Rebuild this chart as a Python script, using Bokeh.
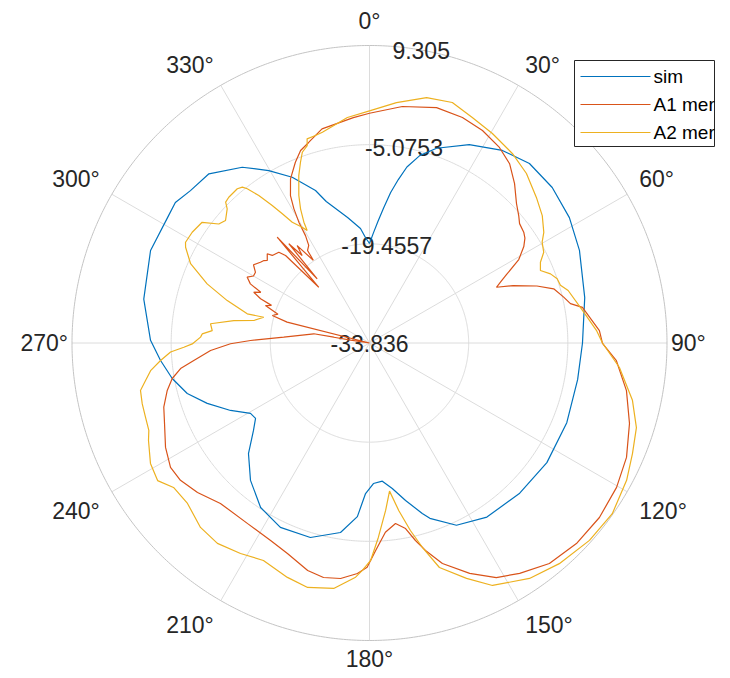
import numpy as np
from bokeh.plotting import figure
from bokeh.models import Range1d
from bokeh.core.properties import value
from bokeh.embed import file_html
from bokeh.resources import INLINE

# ---------------- data ----------------
R_MIN = -33.836
R_MAX = 9.305
r_ticks = [-33.836, -19.4557, -5.0753, 9.305]
r_tick_labels = ["-33.836", "-19.4557", "-5.0753", "9.305"]
theta_ticks = [0, 30, 60, 90, 120, 150, 180, 210, 240, 270, 300, 330]
theta_tick_labels = ["0°", "30°", "60°", "90°", "120°", "150°", "180°", "210°", "240°", "270°", "300°", "330°"]
series_names = ["sim", "A1 mer", "A2 mer"]

sim_theta = [0, 2, 4, 6, 8, 10, 12, 15, 19, 26.7, 34.6, 41.7, 49.6, 57.9, 66.2, 78.1, 90, 100, 112, 124,
             135, 146, 154.5, 161, 162.8, 167.1, 171.1, 174.7, 178.4, 181.5, 184, 188.7, 196.9, 205.8,
             213.5, 220.9, 227.6, 233, 236.5, 239.4, 244.1, 249.6, 254.5, 259.8, 265.2, 270.7, 281,
             292.9, 301.9, 305.9, 310.4, 316.5, 324.1, 329.7, 335, 340.5, 343, 350.1, 355.5, 357.8, 360]
sim_db = [-19.41, -17.89, -16.15, -14.12, -11.80, -9.77, -7.74, -5.71, -3.97, -1.65, 0.09, 1.03, 0.96,
          0.38, -0.56, -1.94, -2.95, -3.19, -2.98, -2.81, -3.03, -3.39, -4.55, -6.94, -7.96, -10.41,
          -12.48, -13.71, -13.45, -12.00, -8.6, -6.04, -4.36, -4.14, -5.23, -7.48, -10.07, -12.77,
          -14.02, -13.79, -11.44, -8.73, -6.41, -4.77, -3.43, -2.08, -0.49, 0.63, 0.64, 0.92, 0.26,
          -0.01, -2.37, -4.88, -7.32, -10.38, -12.38, -15.37, -17.18, -18.53, -19.41]

a1_theta = [0, 7.9, 15.9, 22.4, 28.0, 33.6, 38.0, 42.3, 46.5, 49.5, 51.5, 54.3, 56, 58.0, 60.8, 63.5,
            65.1, 66.3, 68.2, 71.2, 73.6, 76.7, 78.9, 80.5, 86.9, 90.1, 94.1, 100.5, 107.2, 114.0,
            120.3, 127.2, 134.1, 140.8, 146.9, 151.6, 156.5, 161.7, 164.9, 166.9, 169.0, 171.8, 175.2,
            178.3, 180.6, 183.0, 187.0, 191.1, 195.2, 201.3, 206.6, 214.0, 222.9, 229.0, 234.0, 238.0,
            242.9, 248.6, 252.7, 256.8, 259.8, 262.3, 264.3, 267.3, 269.7, 271.2, 273.9, 279.4, 279.2,
            278.5, 281, 284.2, 285.8, 287.5, 289.8, 291, 292.1, 293.7, 295, 296.4, 298.3, 300, 301.8,
            304, 306.5, 308, 308.9, 311.1, 312, 315, 316.2, 317.7, 318.9, 320.8, 320.9, 322.4, 323.4,
            325.8, 326.2, 328.1, 329.2, 329.7, 330.6, 331.8, 334.3, 337.7, 340.3, 343.2, 347.5, 355.9, 360]
a1_db = [-0.52, 0.79, 1.66, 1.53, 1.06, 0.21, -0.84, -2.58, -4.45, -5.38, -6.03, -6.29, -6.65, -7.45,
         -9.04, -11.65, -12.90, -13.73, -11.41, -8.19, -5.99, -4.90, -4.14, -2.53, -0.45, -0.05, 2.06,
         4.06, 5.63, 6.96, 7.66, 8.02, 7.95, 7.43, 6.04, 4.83, 2.60, -0.16, -2.68, -4.43, -6.43, -7.39,
         -6.30, -3.74, -1.33, -0.37, 0.57, 0.82, 0.35, -1.08, -1.81, -2.24, -2.08, -0.79, 0.05, 0.19,
         -0.61, -1.91, -2.59, -3.71, -4.77, -6.19, -8.23, -10.76, -13.68, -16.58, -21.37, -25.65,
         -28.59, -31.08, -33.836, -21.51, -19.19, -19.92, -17.80, -18.61, -16.79, -15.51, -16.44,
         -14.55, -13.68, -14.41, -14.38, -13.54, -14.16, -14.41, -14.79, -14.16, -14.86, -15.24,
         -16.25, -22.91, -13.48, -21.83, -15.28, -17.83, -16.24, -19.34, -17.69, -17.16, -15.71,
         -13.54, -11.51, -9.58, -7.42, -5.51, -4.19, -3.42, -2.03, -1.07, -0.52]

a2_theta = [0.2, 6.4, 13.1, 19.0, 24.5, 30.4, 37.0, 42.8, 48.9, 53.6, 57.6, 59.7, 62.5, 64.7, 67.0, 69.1,
            71.1, 73.2, 75.2, 81.3, 86.8, 90.0, 95.6, 102.3, 107.6, 112.8, 118.1, 125.1, 131.9, 139.3,
            145.8, 153.1, 157.6, 162.7, 165.5, 167.7, 170.1, 172.3, 174.5, 177.4, 179.7, 181.8, 183.4,
            188.3, 194.2, 199.3, 206.0, 211.5, 217.2, 222.5, 228.6, 233.6, 237.0, 241.2, 246.2, 248.4,
            251.7, 255.0, 258.3, 260.5, 262.8, 265.2, 267.4, 268.7, 269.7, 272.0, 273.1, 274.5, 276.9,
            279.4, 281.0, 283.7, 283.4, 286.6, 290.0, 293.9, 297.5, 298.7, 302.0, 305.8, 308.3, 310.4,
            313.3, 314.4, 316.0, 319.4, 320.8, 321.6, 323.1, 324.7, 326.0, 327.4, 329.8, 331.0, 331.5,
            332.8, 334.4, 337.1, 339.1, 340.6, 342.5, 343.0, 345.4, 347.4, 354.4, 360.2]
a2_db = [-0.13, 1.25, 2.70, 3.05, 2.11, 1.38, 0.58, -0.34, -1.72, -2.71, -3.90, -4.84, -5.35, -6.42,
         -6.91, -5.74, -5.07, -4.91, -4.04, -2.59, -0.88, -0.05, 2.58, 5.19, 6.77, 7.53, 8.43, 9.20,
         9.02, 8.37, 7.44, 5.59, 3.09, 0.26, -3.24, -6.01, -9.19, -12.16, -9.44, -5.61, -2.30, -0.84,
         0.18, 2.13, 2.73, 2.18, 1.25, 1.96, 2.64, 2.44, 1.35, 1.47, 2.80, 2.41, 1.19, 0.58, 0.38, 0.28,
         0.08, -0.91, -1.84, -3.43, -4.96, -6.91, -8.13, -9.32, -9.54, -10.96, -10.61, -13.89, -16.74,
         -18.06, -15.61, -12.31, -8.78, -5.46, -3.77, -3.42, -3.52, -3.91, -5.99, -6.42, -5.48, -4.64,
         -4.46, -4.38, -4.67, -5.30, -7.10, -9.42, -11.23, -13.05, -14.42, -15.19, -13.90, -11.96,
         -10.12, -7.48, -5.78, -4.51, -3.81, -2.88, -2.75, -2.52, -0.98, -0.13]

assert len(sim_theta) == len(sim_db)
assert len(a1_theta) == len(a1_db)
assert len(a2_theta) == len(a2_db)

# ---------------- layout / styling ----------------
W, H = 722, 670
S = 297.5                 # pixels per normalised radius
CX, CY = 369.0, 342.5     # centre in figure pixels
TXT = "#262626"
FONT = "Liberation Sans"
COLORS = ["#0072BD", "#D95319", "#EDB120"]


def to_xy(theta_deg, db):
    t = np.radians(np.asarray(theta_deg, dtype=float))
    rn = (np.asarray(db, dtype=float) - R_MIN) / (R_MAX - R_MIN)
    rn = np.clip(rn, 0, None)
    return rn * np.sin(t), rn * np.cos(t)


def px(X, Y):
    """figure pixel (from top-left) -> data coordinate"""
    return (X - CX) / S, (CY - Y) / S


p = figure(width=W, height=H, output_backend="svg", toolbar_location=None,
           x_range=Range1d(-CX / S, (W - CX) / S), y_range=Range1d(-(H - CY) / S, CY / S),
           x_axis_location=None, y_axis_location=None, min_border=0,
           outline_line_color=None, background_fill_color="white", border_fill_color="white")
p.grid.visible = False

# grid
phi = np.linspace(0, 2 * np.pi, 721)
for rv in r_ticks[1:-1]:
    rn = (rv - R_MIN) / (R_MAX - R_MIN)
    p.line(rn * np.sin(phi), rn * np.cos(phi), line_color="#dcdcdc", line_width=1)
tt = np.radians(theta_ticks)
p.segment(x0=[0] * len(tt), y0=[0] * len(tt), x1=list(np.sin(tt)), y1=list(np.cos(tt)),
          line_color="#dcdcdc", line_width=1)
p.line(np.sin(phi), np.cos(phi), line_color="#c4c4c4", line_width=1)

# theta tick labels
FS = 23
lx, ly = [], []
for t, txt in zip(theta_ticks, theta_tick_labels):
    w = sum(0.556 if ch.isdigit() else 0.4 for ch in txt) * FS
    h = 17
    s, c = np.sin(np.radians(t)), np.cos(np.radians(t))
    if abs(c) < 1e-6:            # 90 / 270
        X, Y = np.sign(s) * (S + 4 + w / 2), 0.0
    elif abs(s) < 1e-6:          # 0 / 180
        X, Y = 0.0, (S + 25) if c > 0 else -(S + 18)
    else:
        X = (S + 14) * s + np.sign(s) * w / 2
        Y = (S + 14) * c + np.sign(c) * h / 2 - (4 if c < 0 else 0)
    lx.append(X / S)
    ly.append(Y / S)
p.text(x=lx, y=ly, text=theta_tick_labels, text_font=value(FONT), text_font_size=value(f"{FS}px"),
       text_color=TXT, text_align="center", text_baseline="middle")

# r tick labels along 10 deg
rx, ry = to_xy([10] * len(r_ticks), r_ticks)
p.text(x=list(rx), y=list(ry), text=r_tick_labels, text_font=value(FONT),
       text_font_size=value(f"{FS}px"), text_color=TXT, text_align="center", text_baseline="middle")

# data
for (th, db), col in zip([(sim_theta, sim_db), (a1_theta, a1_db), (a2_theta, a2_db)], COLORS):
    x, y = to_xy(th, db)
    p.line(x, y, line_color=col, line_width=1.2)

# legend (drawn manually)
bx0, by0 = px(574, 60)
bx1, by1 = px(714, 146)
p.quad(left=[bx0], right=[bx1], top=[by0], bottom=[by1], fill_color="white",
       line_color=TXT, line_width=1)
rows = [76, 104, 132]
for name, col, Y in zip(series_names, COLORS, rows):
    x0, y0 = px(580, Y)
    x1, _ = px(650, Y)
    p.line([x0, x1], [y0, y0], line_color=col, line_width=1.2)
    tx, _ = px(653, Y)
    p.text(x=[tx], y=[y0], text=[name], text_font=value(FONT), text_font_size=value("19px"),
           text_color="#000000", text_align="left", text_baseline="middle")

open("out.html", "w").write(file_html(p, INLINE))
